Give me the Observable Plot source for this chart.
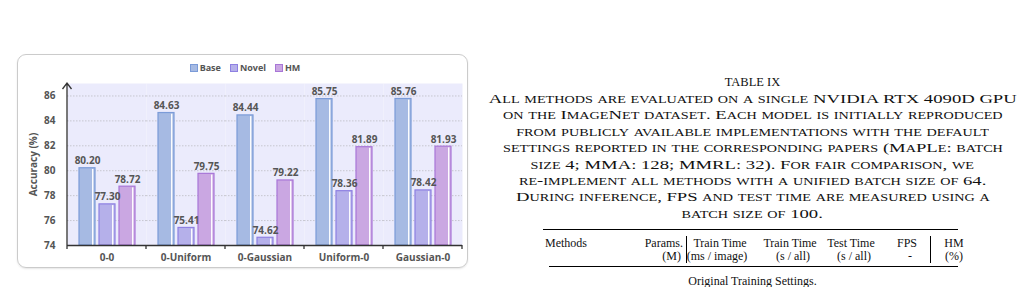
<!DOCTYPE html>
<html>
<head>
<meta charset="utf-8">
<script src="https://cdn.jsdelivr.net/npm/d3@7"></script>
<script src="https://cdn.jsdelivr.net/npm/@observablehq/plot@0.6"></script>
<style>
html,body{margin:0;padding:0;background:#fff;width:1025px;height:287px;overflow:hidden;position:relative}
#frame{position:absolute;left:17px;top:54px;width:451px;height:214px;border:1px solid #cbcbcb;border-radius:9px;box-sizing:border-box;box-shadow:0 1px 2px rgba(0,0,0,0.10)}
#chart{position:absolute;left:0;top:0}
#legend{position:absolute;left:17px;width:456px;top:62px;display:flex;justify-content:center;gap:9px;font:700 9px "Open Sans",sans-serif;color:#555;line-height:12px}
#legend .it{display:flex;align-items:center;gap:2px}
#legend .sw{width:6px;height:6px;border:1px solid}
#right{position:absolute;left:480px;top:0;width:545px;height:287px;font-family:"Liberation Serif","Times New Roman",serif;color:#111}
#right .c{position:absolute;left:0;width:545px;text-align:center;white-space:nowrap;font-size:12px;line-height:14px}
#right .t{font-size:12.5px}
#right .cap{position:absolute;left:0;width:545px;text-align:center;white-space:nowrap;font-size:13px;line-height:15px}
#right .cap .in{display:inline-block;transform-origin:50% 50%}
#right .cap .s{font-size:0.76em}
#right .cell{position:absolute;white-space:nowrap;font-size:12px;line-height:14px}
#right .rule{position:absolute;background:#000}
</style>
</head>
<body>
<div id="frame"></div>
<div id="chart"></div>
<div id="legend"></div>
<div id="right"></div>
<script>
// ---------- chart data ----------
const categories = ["0-0", "0-Uniform", "0-Gaussian", "Uniform-0", "Gaussian-0"];
const seriesNames = ["Base", "Novel", "HM"];
const baseValues = [80.20, 84.63, 84.44, 85.75, 85.76];
const novelValues = [77.30, 75.41, 74.62, 78.36, 78.42];
const hmValues = [78.72, 79.75, 79.22, 81.89, 81.93];
const yTicks = [74, 76, 78, 80, 82, 84, 86];
const yLabel = "Accuracy (%)";
const fills = ["#a6bae3", "#b5b0ea", "#caa7e2"];
const strokes = ["#7b9bd8", "#8e80e2", "#a876d7"];

// ---------- table text ----------
const tableTitle = "TABLE IX";
const captionLines = [
  "All methods are evaluated on a single NVIDIA RTX 4090D GPU",
  "on the ImageNet dataset. Each model is initially reproduced",
  "from publicly available implementations with the default",
  "settings reported in the corresponding papers (MaPLe: batch",
  "size 4; MMA: 128; MMRL: 32). For fair comparison, we",
  "re-implement all methods with a unified batch size of 64.",
  "During inference, FPS and test time are measured using a",
  "batch size of 100."
];
const headerRow1 = ["Methods", "Params.", "Train Time", "Train Time", "Test Time", "FPS", "HM"];
const headerRow2 = ["", "(M)", "(ms / image)", "(s / all)", "(s / all)", "-", "(%)"];
const sectionLabel = "Original Training Settings.";

// ---------- build chart ----------
const valuesBySeries = [baseValues, novelValues, hmValues];
const data = categories.flatMap((c, i) =>
  seriesNames.map((s, j) => ({cat: c, series: s, value: valuesBySeries[j][i]})));

const chart = Plot.plot({
  width: 470,
  height: 287,
  marginLeft: 67,
  marginRight: 8,
  marginTop: 83,
  marginBottom: 42,
  style: {fontFamily: "'Open Sans', sans-serif", fontSize: "10px", fontWeight: "bold", color: "#555", background: "transparent", overflow: "visible"},
  fx: {domain: categories, padding: 0, label: null},
  x: {domain: seriesNames, paddingInner: 0.2, paddingOuter: 0.575, axis: null},
  y: {domain: [74, 87], label: yLabel},
  marks: [
    Plot.frame({fill: "#ebebfc", stroke: "none"}),
    Plot.ruleY(yTicks.slice(1), {stroke: "#c6c6cf", strokeDasharray: "1.5,1.5", strokeWidth: 1}),
    ...seriesNames.flatMap((s, i) => {
      const d = data.filter(r => r.series === s);
      return [
        Plot.barY(d, {fx: "cat", x: "series", y1: 74, y2: "value", fill: fills[i], stroke: strokes[i], strokeWidth: 1.2}),
        Plot.barY(d, {fx: "cat", x: "series", y1: 74, y2: "value", fill: "#ffffff", insetLeft: 13, insetRight: 1.6, insetTop: 1.2, fillOpacity: 0.95})
      ];
    }),
    Plot.text(data, {fx: "cat", x: "series", y: "value", text: d => d.value.toFixed(2), lineAnchor: "bottom", dy: -4, fill: "#555", fontSize: 10}),
    Plot.ruleY([74], {stroke: "#333", strokeWidth: 1.3}),
    Plot.axisY({ticks: yTicks, tickSize: 0, tickPadding: 12, tickFormat: d => String(d), label: yLabel, labelAnchor: "center", labelArrow: "none", labelOffset: 38, fill: "#555", fontSize: 10}),
    Plot.axisFx({anchor: "bottom", tickSize: 0, tickPadding: 8, label: null, fill: "#555", fontSize: 10})
  ]
});
document.getElementById("chart").appendChild(chart);

// axis line with arrow and boundary ticks, positioned from the chart's scales
{
  const yS = chart.scale("y"), fxS = chart.scale("fx");
  const x0 = fxS.apply(categories[0]);
  const bw = fxS.bandwidth;
  const yBase = yS.apply(yTicks[0]);
  const yTop = yS.apply(yS.domain[1]);
  const g = d3.select(chart).append("g").attr("stroke", "#333").attr("fill", "none").attr("stroke-width", 1.3);
  g.append("path").attr("d", `M${x0},${yBase}V${yTop}M${x0 - 4.5},${yTop + 6}L${x0},${yTop}L${x0 + 4.5},${yTop + 6}`);
  const bounds = categories.map(c => fxS.apply(c)).concat([fxS.apply(categories[categories.length - 1]) + bw]);
  bounds.forEach(b => g.append("line").attr("x1", b).attr("x2", b).attr("y1", yBase).attr("y2", yBase + 4));
}

// legend
{
  const lg = document.getElementById("legend");
  seriesNames.forEach((s, i) => {
    const it = document.createElement("div"); it.className = "it";
    const sw = document.createElement("div"); sw.className = "sw";
    sw.style.background = fills[i]; sw.style.borderColor = strokes[i];
    const tx = document.createElement("span"); tx.textContent = s;
    it.appendChild(sw); it.appendChild(tx); lg.appendChild(it);
  });
}

// ---------- right-hand table caption ----------
{
  const R = document.getElementById("right");
  const add = (cls, text, css) => {
    const e = document.createElement("div"); e.className = cls; e.textContent = text;
    Object.assign(e.style, css); R.appendChild(e); return e;
  };
  const lineStep = 16.4;
  const titleCenter = 82;
  add("c t", tableTitle, {top: (titleCenter - 7) + "px"});
  // manual small caps: lowercase letters become reduced capitals
  const capLines = captionLines.map((t, i) => {
    const wrap = document.createElement("div"); wrap.className = "cap";
    wrap.style.top = (titleCenter + lineStep * (i + 1) - 7.5) + "px";
    const inner = document.createElement("span"); inner.className = "in";
    (t.match(/[a-z]+|[^a-z]+/g) || []).forEach(run => {
      const sp = document.createElement("span");
      if (/^[a-z]/.test(run)) { sp.className = "s"; sp.textContent = run.toUpperCase(); }
      else sp.textContent = run;
      inner.appendChild(sp);
    });
    wrap.appendChild(inner); R.appendChild(wrap);
    return inner;
  });
  const targetFirstWidth = 528;
  const k = targetFirstWidth / capLines[0].getBoundingClientRect().width;
  capLines.forEach(el => el.style.transform = `scaleX(${k})`);

  // rules (page x minus 480)
  add("rule", "", {left: "63px", width: "415px", top: "229px", height: "1.4px"});
  add("rule", "", {left: "69px", width: "409px", top: "266px", height: "0.8px"});
  add("rule", "", {left: "206px", width: "0.8px", top: "236px", height: "27px"});
  add("rule", "", {left: "450px", width: "0.8px", top: "236px", height: "27px"});
  // header cells: [anchor, x]
  const pos1 = [["l", 65], ["r", 203], ["m", 240], ["m", 310], ["m", 371], ["m", 427], ["m", 474]];
  const pos2 = [["l", 65], ["r", 201], ["m", 237], ["m", 313], ["m", 374], ["m", 430], ["m", 474]];
  const place = (row, pos, top) => row.forEach((t, i) => {
    if (!t) return;
    const [a, x] = pos[i];
    const css = {top: top + "px"};
    if (a === "l") css.left = x + "px";
    else if (a === "r") { css.right = (545 - x) + "px"; }
    else { css.left = x + "px"; css.transform = "translateX(-50%)"; }
    add("cell", t, css);
  });
  place(headerRow1, pos1, 236);
  place(headerRow2, pos2, 249);
  add("c", sectionLabel, {top: "274px"});
}
</script>
</body>
</html>
